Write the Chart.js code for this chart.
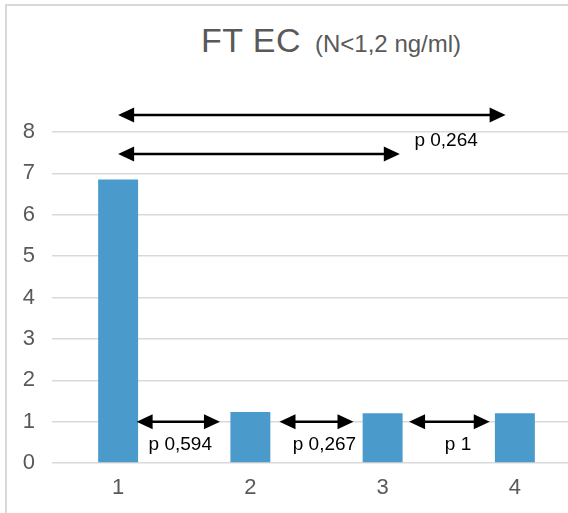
<!DOCTYPE html>
<html>
<head>
<meta charset="utf-8">
<script src="https://cdn.jsdelivr.net/npm/chart.js@4"></script>
<style>
  html, body { margin: 0; padding: 0; background: #fff; overflow: hidden; width: 568px; height: 513px; }
  #wrap { position: absolute; left: 0; top: 0; width: 600px; height: 513px; }
  #frame { position: absolute; left: 5px; top: 4px; width: 700px; height: 600px; border-left: 2px solid #d9d9d9; border-top: 2px solid #d9d9d9; box-sizing: border-box; }
  #title { position: absolute; left: 0; top: 20px; width: 662px; text-align: center; font-family: "Liberation Sans", Arial, sans-serif; color: #595959; white-space: nowrap; line-height: 40px; }
  #title .main { font-size: 34px; letter-spacing: 0.5px; }
  #title .sub { font-size: 24px; margin-left: 14px; }
</style>
</head>
<body>
<div id="frame"></div>
<div id="title"><span class="main">FT EC</span><span class="sub">(N&lt;1,2 ng/ml)</span></div>
<div id="wrap"><canvas id="c" width="600" height="513"></canvas></div>
<script>
// ---- data ----
const categories = ['1', '2', '3', '4'];
const values = [6.85, 1.23, 1.2, 1.2];
const yTicks = [0, 1, 2, 3, 4, 5, 6, 7, 8];

// comparison arrows (category-index units / value units)
const arrowFrom  = [0, 0, 0.14, 1.22, 2.2];
const arrowTo    = [2.93, 2.13, 0.77, 1.78, 2.81];
const arrowLevel = [8.41, 7.47, 1, 1, 1];

// p-value labels
const pLabels = ['p 0,264', 'p 0,594', 'p 0,267', 'p 1'];
const pX      = [2.48, 0.47, 1.56, 2.57];
const pY      = [7.66, 0.31, 0.31, 0.31];

const annotations = {
  id: 'annotations',
  afterDatasetsDraw(chart) {
    const ctx = chart.ctx;
    const xs = chart.scales.x, ys = chart.scales.y;
    const toX = v => xs.getPixelForValue(0) + v * (xs.getPixelForValue(1) - xs.getPixelForValue(0));
    ctx.save();
    ctx.strokeStyle = '#000';
    ctx.fillStyle = '#000';
    ctx.lineWidth = 2.5;
    const headL = 16, headH = 7.5;
    for (let i = 0; i < arrowFrom.length; i++) {
      const x1 = toX(arrowFrom[i]), x2 = toX(arrowTo[i]), y = ys.getPixelForValue(arrowLevel[i]);
      ctx.beginPath();
      ctx.moveTo(x1 + headL - 2, y);
      ctx.lineTo(x2 - headL + 2, y);
      ctx.stroke();
      ctx.beginPath();
      ctx.moveTo(x1, y); ctx.lineTo(x1 + headL, y - headH); ctx.lineTo(x1 + headL, y + headH); ctx.closePath();
      ctx.fill();
      ctx.beginPath();
      ctx.moveTo(x2, y); ctx.lineTo(x2 - headL, y - headH); ctx.lineTo(x2 - headL, y + headH); ctx.closePath();
      ctx.fill();
    }
    ctx.font = '19px "Liberation Sans", Arial, sans-serif';
    ctx.textAlign = 'center';
    ctx.textBaseline = 'alphabetic';
    for (let i = 0; i < pLabels.length; i++) {
      ctx.fillText(pLabels[i], toX(pX[i]), ys.getPixelForValue(pY[i]));
    }
    ctx.restore();
  }
};

new Chart(document.getElementById('c'), {
  type: 'bar',
  data: {
    labels: categories,
    datasets: [{
      data: values,
      backgroundColor: '#4a9bcc',
      borderWidth: 0,
      categoryPercentage: 1,
      barPercentage: 0.302
    }]
  },
  options: {
    responsive: false,
    animation: false,
    devicePixelRatio: 1,
    layout: { padding: { left: 5, right: 19, top: 132, bottom: 0 } },
    plugins: { legend: { display: false }, title: { display: false }, tooltip: { enabled: false } },
    scales: {
      x: {
        grid: { display: false, drawTicks: false },
        border: { display: false },
        ticks: { color: '#595959', font: { size: 22, family: '"Liberation Sans", Arial, sans-serif' }, padding: 12 },
        afterFit: s => { s.height = 50; }
      },
      y: {
        min: 0, max: 8,
        afterBuildTicks: s => { s.ticks = yTicks.map(v => ({ value: v })); },
        grid: { color: '#d9d9d9', lineWidth: 1.5, drawTicks: false },
        border: { display: false },
        ticks: { color: '#595959', font: { size: 22, family: '"Liberation Sans", Arial, sans-serif' }, padding: 17 },
        afterFit: s => { s.width = 47; }
      }
    }
  },
  plugins: [annotations]
});
</script>
</body>
</html>
